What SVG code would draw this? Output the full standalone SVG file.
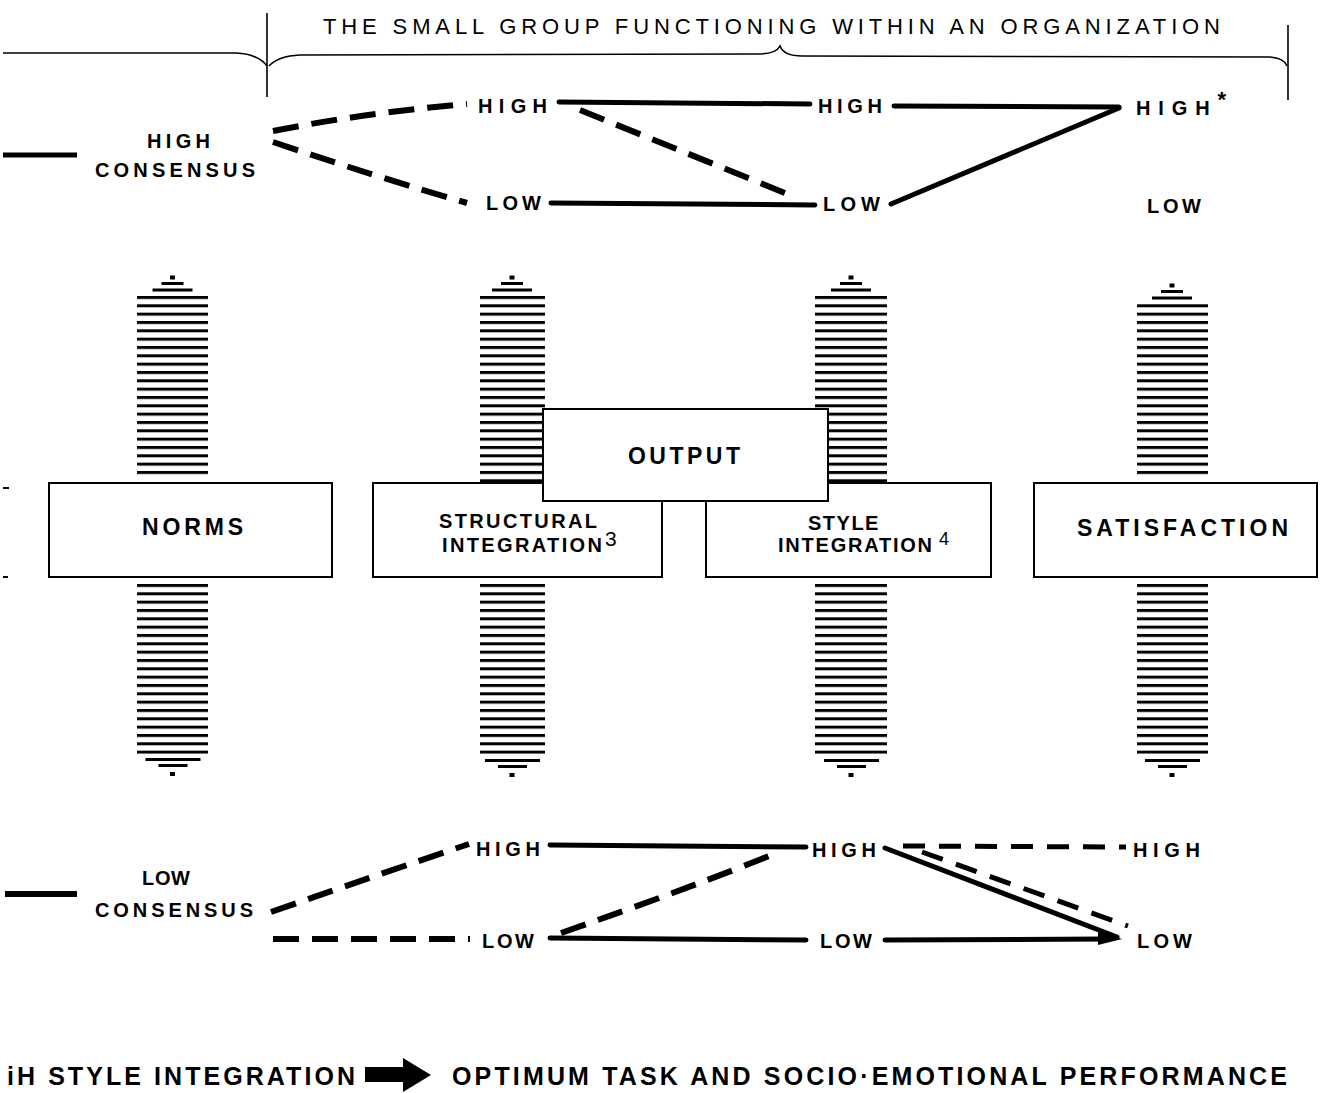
<svg xmlns="http://www.w3.org/2000/svg" width="1320" height="1093" viewBox="0 0 1320 1093">
<style>
text{font-family:"Liberation Sans",Arial,sans-serif;fill:#000}
.lb{font-weight:bold;font-size:20px}
.bx{font-weight:bold;font-size:23px}
.box{fill:#fff;stroke:#000;stroke-width:2}
.thin{fill:none;stroke:#000;stroke-width:1.6}
.solid{fill:none;stroke:#000;stroke-width:5;stroke-linecap:round}
.dash{fill:none;stroke:#000;stroke-width:6;stroke-dasharray:26 13}
.dash2{fill:none;stroke:#000;stroke-width:5;stroke-dasharray:22 14}
</style>
<defs>
<pattern id="hatchTop" patternUnits="userSpaceOnUse" x="0" y="4.33" width="20" height="8.333"><rect x="0" y="0" width="20" height="3" fill="#000"/></pattern>
<pattern id="hatchBot" patternUnits="userSpaceOnUse" x="0" y="0.67" width="20" height="8.333"><rect x="0" y="0" width="20" height="3" fill="#000"/></pattern>
<g id="taperTop"><rect x="-2.5" y="-1.5" width="5" height="4" fill="#000"/><rect x="-11" y="5" width="22" height="3" fill="#000"/><rect x="-20" y="11.5" width="40" height="3" fill="#000"/></g>
<g id="taperBot"><rect x="-27" y="0" width="55" height="3" fill="#000"/><rect x="-14" y="6" width="29" height="3" fill="#000"/><rect x="-2.5" y="14" width="5" height="4" fill="#000"/></g>
</defs>
<rect width="1320" height="1093" fill="#fff"/>

<g id="title">
<path class="thin" d="M3,53 L236,53 Q258,54 267,66"/>
<path class="thin" d="M267,13 L267,97"/>
<path class="thin" d="M269,66 Q278,56 300,55 L758,54 Q776,54 780,46 Q784,56 802,56 L1270,57 Q1284,58 1287,66"/>
<path class="thin" d="M1288,25 L1288,100"/>
<text x="323" y="34" font-size="22" textLength="897" lengthAdjust="spacing">THE SMALL GROUP FUNCTIONING WITHIN AN ORGANIZATION</text>
</g>

<g id="pillars">
<g id="pillar-1">
<use href="#taperTop" x="172.5" y="277"/>
<rect x="137" y="296" width="71" height="180" fill="url(#hatchTop)"/>
<rect x="137" y="584" width="71" height="170" fill="url(#hatchBot)"/>
<use href="#taperBot" x="172.5" y="758"/>
</g>
<g id="pillar-2">
<use href="#taperTop" x="512" y="277"/>
<rect x="480" y="296" width="65" height="188" fill="url(#hatchTop)"/>
<rect x="480" y="584" width="65" height="170" fill="url(#hatchBot)"/>
<use href="#taperBot" x="512" y="759"/>
</g>
<g id="pillar-3">
<use href="#taperTop" x="851" y="277"/>
<rect x="815" y="296" width="72" height="188" fill="url(#hatchTop)"/>
<rect x="815" y="584" width="72" height="170" fill="url(#hatchBot)"/>
<use href="#taperBot" x="851" y="759"/>
</g>
<g id="pillar-4">
<use href="#taperTop" x="1172" y="285"/>
<rect x="1137" y="304" width="71" height="172" fill="url(#hatchTop)"/>
<rect x="1137" y="584" width="71" height="170" fill="url(#hatchBot)"/>
<use href="#taperBot" x="1172" y="759"/>
</g>
<path d="M3,488 L9,488 M3,577 L8,577" stroke="#000" stroke-width="2"/>
</g>

<g id="box-norms">
<rect class="box" x="49" y="483" width="283" height="94"/>
<text class="bx" x="142" y="535" textLength="101" lengthAdjust="spacing">NORMS</text>
</g>
<g id="box-structural">
<rect class="box" x="373" y="483" width="289" height="94"/>
<text class="lb" x="439" y="528" font-size="18" textLength="158" lengthAdjust="spacing">STRUCTURAL</text>
<text class="lb" x="442" y="552" font-size="19" textLength="160" lengthAdjust="spacing">INTEGRATION</text>
<text x="605" y="546" font-size="21">3</text>
</g>
<g id="box-style">
<rect class="box" x="706" y="483" width="285" height="94"/>
<text class="lb" x="808" y="530" font-size="16" letter-spacing="1.5">STYLE</text>
<text class="lb" x="778" y="552" font-size="19" textLength="154" lengthAdjust="spacing">INTEGRATION</text>
<text x="939" y="545" font-size="18">4</text>
</g>
<g id="box-output">
<rect class="box" x="543" y="409" width="285" height="92"/>
<text class="bx" x="628" y="464" textLength="112" lengthAdjust="spacing">OUTPUT</text>
</g>
<g id="box-satisfaction">
<rect class="box" x="1034" y="483" width="283" height="94"/>
<text class="bx" x="1077" y="536" textLength="211" lengthAdjust="spacing">SATISFACTION</text>
</g>

<g id="connectors">
<path d="M3,155 L77,155" stroke="#000" stroke-width="5"/>
<path class="dash" d="M273,131 Q370,112 467,104"/>
<path class="dash" d="M273,142 Q380,178 467,203"/>
<path class="solid" d="M559,102 L810,104"/>
<path class="dash" d="M580,110 L790,195"/>
<path class="solid" d="M551,203 L815,205"/>
<path class="solid" d="M894,106 L1119,107"/>
<path class="solid" d="M1119,108 L891,204" stroke-width="6"/>

<path d="M5,894 L77,894" stroke="#000" stroke-width="6"/>
<path class="dash" d="M271,912 Q380,874 469,844" stroke-dasharray="24 14"/>
<path class="dash" d="M273,939 L470,939" stroke-dasharray="25 15"/>
<path class="solid" d="M550,845 L806,847"/>
<path class="dash" d="M561,933 Q690,888 779,852" stroke-dasharray="28 13"/>
<path class="solid" d="M550,938 L806,940"/>
<path class="dash2" d="M903,846 L1126,847" stroke-dasharray="18 12"/>
<path class="solid" d="M885,848 L1117,937"/>
<path class="dash2" d="M922,852 L1128,926"/>
<path class="solid" d="M885,940 L1105,939"/>
<polygon points="1098,930 1122,939 1098,945" fill="#000"/>
</g>

<g id="high-consensus">
<text class="lb" x="147" y="148" textLength="63" lengthAdjust="spacing">HIGH</text>
<text class="lb" x="95" y="177" textLength="160" lengthAdjust="spacing">CONSENSUS</text>
</g>
<g id="low-consensus">
<text class="lb" x="142" y="885" textLength="48" lengthAdjust="spacing">LOW</text>
<text class="lb" x="95" y="917" textLength="158" lengthAdjust="spacing">CONSENSUS</text>
</g>

<g id="top-structural-high"><text class="lb" x="478" y="113" textLength="69" lengthAdjust="spacing">HIGH</text></g>
<g id="top-structural-low"><text class="lb" x="486" y="210" textLength="55" lengthAdjust="spacing">LOW</text></g>
<g id="top-style-high"><text class="lb" x="818" y="113" textLength="64" lengthAdjust="spacing">HIGH</text></g>
<g id="top-style-low"><text class="lb" x="823" y="211" textLength="57" lengthAdjust="spacing">LOW</text></g>
<g id="top-sat-high"><text class="lb" x="1136" y="115" textLength="90" lengthAdjust="spacing">HIGH<tspan dy="-8" font-size="22">*</tspan></text></g>
<g id="top-sat-low"><text class="lb" x="1147" y="213" textLength="54" lengthAdjust="spacing">LOW</text></g>

<g id="bot-structural-high"><text class="lb" x="476" y="856" textLength="64" lengthAdjust="spacing">HIGH</text></g>
<g id="bot-structural-low"><text class="lb" x="482" y="948" textLength="52" lengthAdjust="spacing">LOW</text></g>
<g id="bot-style-high"><text class="lb" x="812" y="857" textLength="64" lengthAdjust="spacing">HIGH</text></g>
<g id="bot-style-low"><text class="lb" x="820" y="948" textLength="52" lengthAdjust="spacing">LOW</text></g>
<g id="bot-sat-high"><text class="lb" x="1133" y="857" textLength="67" lengthAdjust="spacing">HIGH</text></g>
<g id="bot-sat-low"><text class="lb" x="1137" y="948" textLength="55" lengthAdjust="spacing">LOW</text></g>

<g id="footer">
<text x="7" y="1085" font-size="25" font-weight="bold" textLength="348" lengthAdjust="spacing">iH STYLE INTEGRATION</text>
<rect x="365" y="1067" width="40" height="15" fill="#000"/>
<polygon points="403,1058 431,1075 403,1092" fill="#000"/>
<text x="452" y="1085" font-size="25" font-weight="bold" textLength="835" lengthAdjust="spacing">OPTIMUM TASK AND SOCIO·EMOTIONAL PERFORMANCE</text>
</g>
</svg>
